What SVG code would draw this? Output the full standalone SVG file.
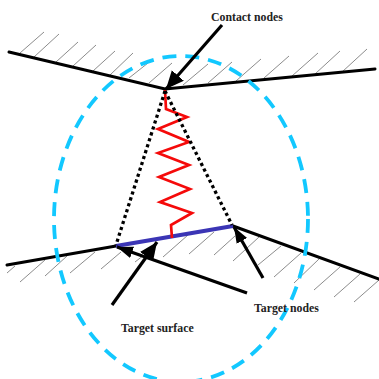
<svg xmlns="http://www.w3.org/2000/svg" width="379" height="379" viewBox="0 0 379 379">
<style>
.g{stroke:#000;stroke-width:3;fill:none;stroke-linecap:round}
.h{stroke:#8c8c8c;stroke-width:1;fill:none}
.a{stroke:#000;stroke-width:3.2;fill:none;stroke-linecap:butt}
.t{font-family:"Liberation Serif",serif;font-weight:bold;font-size:11.8px;fill:#222}
</style>
<defs>
<marker id="ah" markerUnits="userSpaceOnUse" markerWidth="18" markerHeight="14" refX="16" refY="6" orient="auto"><path d="M0 0L16 6L0 12Z" fill="#000"/></marker>
<marker id="big" markerUnits="userSpaceOnUse" markerWidth="20" markerHeight="18" refX="18" refY="8" orient="auto"><path d="M0 0L18 8L0 16Z" fill="#000"/></marker>
</defs>
<g id="hatch">
<path class="h" d="M20 53L44 32M34 57L59 34M56 62L78 42M73 66L96 45M93 71L115 51M110 75L133 53M129 78L148 63M149 83L172 63M183 85L208 64M208 83L232 62M236 81L261 59M264 78L289 56M292 76L318 53M315 74L340 51M342 72L367 49"/>
<path class="h" d="M7 273L15 266M20 282L45 260M45 276L67 256M70 273L95 252M101 269L121 252M135 262L153 248M163 257L188 235M189 254L214 232M214 255L235 236M233 261L259 237M258 265L281 246M274 277L301 253M294 283L319 259M314 290L340 267M334 297L360 274M354 302L379 280"/>
</g>
<g id="surfaces">
<path class="g" d="M9 52L165 89L375 69"/>
<path class="g" d="M7 265L116 246"/>
<path class="g" d="M233 226L379 279"/>
</g>
<g id="target-surface"><path d="M116 246L233 226" stroke="#3b35b5" stroke-width="4.200" fill="none"/></g>
<g id="spring"><path d="M165 90L166 109L187 117L158 129L189 142L158 153L189 165L159 177L190 189L160 202L192 213L171 225L172 238" stroke="#f50a0a" stroke-width="2.700" fill="none"/></g>
<g id="links">
<path d="M165 91L116 245M165 91L232 225" stroke="#000" stroke-width="3.300" stroke-dasharray="3.200 3" fill="none"/>
</g>
<g id="boundary"><ellipse cx="181" cy="219" rx="127" ry="163" fill="none" stroke="#12c8ff" stroke-width="3.800" stroke-dasharray="14 9"/></g>
<g id="connectors">
<path class="a" d="M222 25L166 89" marker-end="url(#big)"/>
<path class="a" d="M247 293L117 247" marker-end="url(#ah)"/>
<path class="a" d="M112 305L157 242" marker-end="url(#big)"/>
<path class="a" d="M263 278L234 227" marker-end="url(#ah)"/>
</g>
<g id="labels">
<text class="t" x="211" y="21">Contact nodes</text>
<text class="t" x="121" y="332">Target surface</text>
<text class="t" x="254" y="312">Target nodes</text>
</g>
</svg>
